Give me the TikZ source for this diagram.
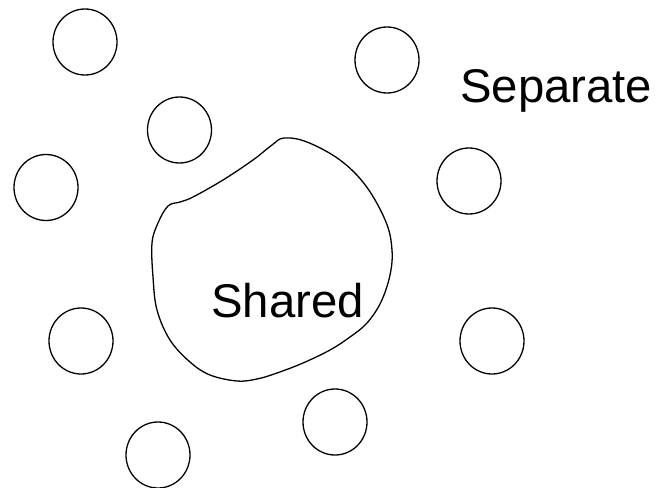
\documentclass[tikz,border=0pt]{standalone}
\usepackage{fontspec}
\setmainfont{Liberation Sans}
\usetikzlibrary{shapes.geometric}
\tikzset{
  cell/.style={draw=black, line width=1.3pt, ellipse, minimum width=64pt, minimum height=66pt, inner sep=0pt},
  region/.style={draw=black, line width=1.3pt},
  bigtext/.style={font=\fontsize{47.3}{50}\selectfont, anchor=base west, inner sep=0pt}
}
\begin{document}
\begin{tikzpicture}[x=1pt, y=-1pt]
  \useasboundingbox (0,0) rectangle (657,488);

  % separate cells
  \node[cell] (c1) at (85,42) {};
  \node[cell] (c2) at (179.5,130) {};
  \node[cell] (c3) at (46,187.5) {};
  \node[cell] (c4) at (387,60) {};
  \node[cell] (c5) at (469,181) {};
  \node[cell] (c6) at (81,341) {};
  \node[cell] (c7) at (158,455) {};
  \node[cell] (c8) at (492,341) {};
  \node[cell] (c9) at (335,422) {};

  % shared region
  \draw[region] plot[smooth cycle, tension=0.6] coordinates {
    (272,145) (284,138) (307,142) (340,160) (366,186)
    (386,222) (392,250) (390,275) (381,302)
    (367,323) (350,337) (330,350) (303,363) (277,373) (257,379)
    (237,381) (210,375) (190,362)
    (170,340) (157,310) (153,277) (152,243) (158,223) (168,206)
    (180,202) (193,197) (223,180) (253,160)
  };

  \node[bigtext] (shared) at (211,317) {Shared};
  \node[bigtext] (separate) at (460,102) {Separate};
\end{tikzpicture}
\end{document}
